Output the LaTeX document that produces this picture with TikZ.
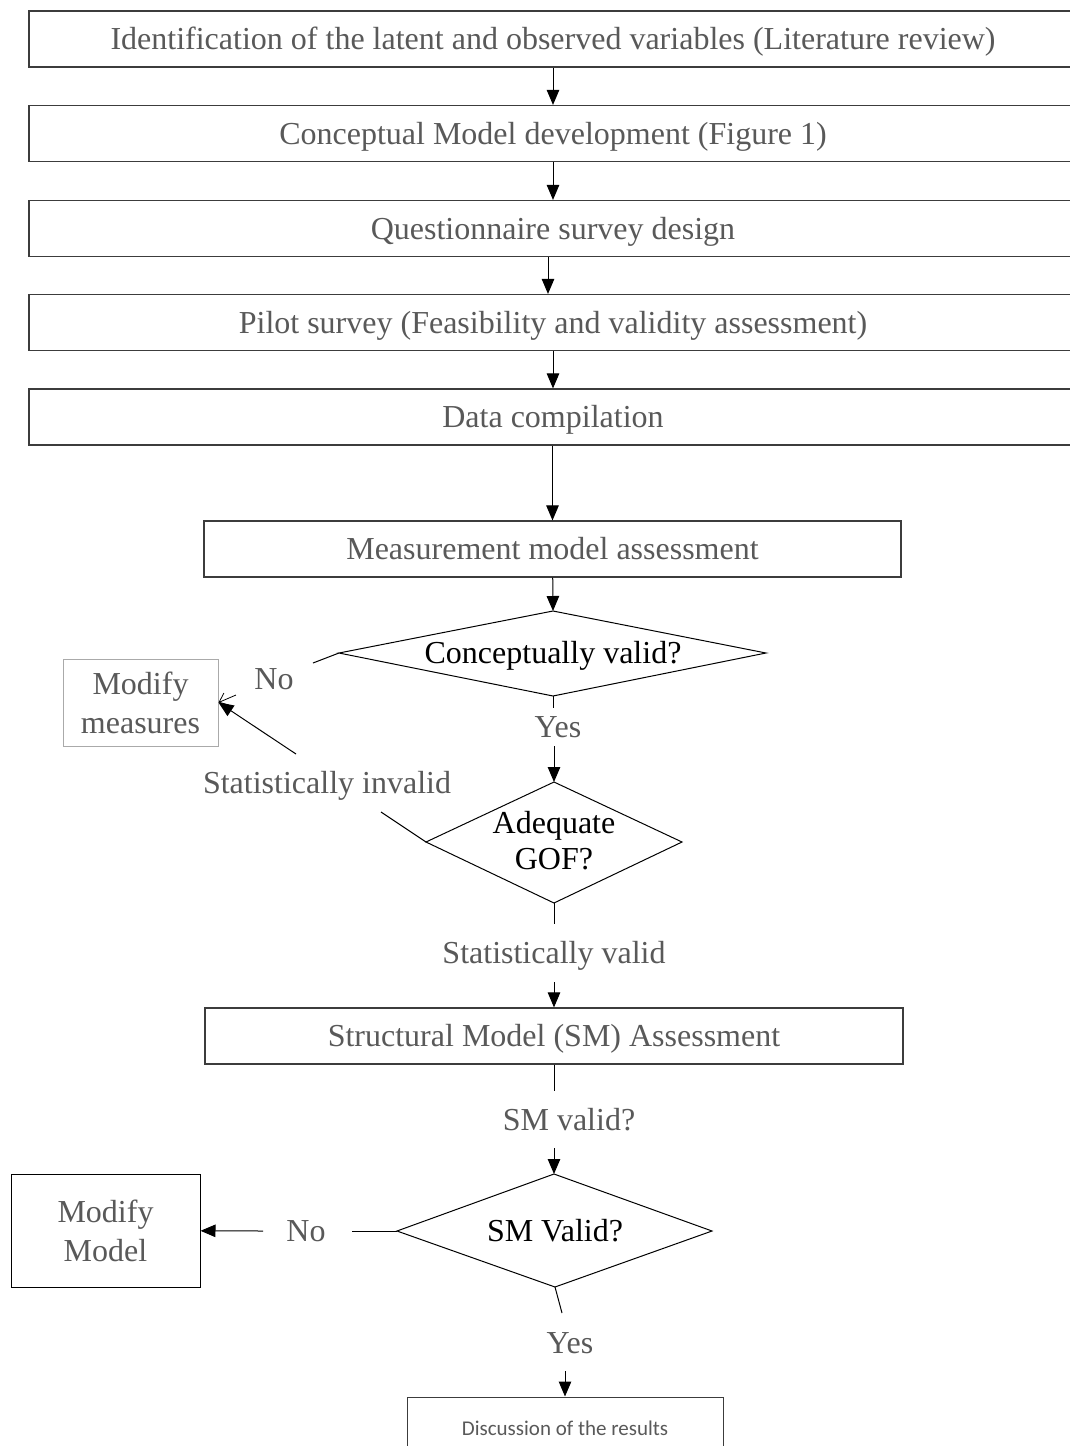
\documentclass[tikz,border=0pt]{standalone}
\usepackage{fontspec}
\setmainfont{Liberation Serif}
\newfontfamily\calibfont{Carlito}
\usetikzlibrary{arrows.meta}
\definecolor{tgray}{RGB}{89,89,89}
\definecolor{bgray}{RGB}{60,60,60}
\definecolor{lgray}{RGB}{170,170,170}
\begin{document}
\begin{tikzpicture}[x=1pt,y=-1pt,
  fnt/.style={font=\fontsize{32}{39}\selectfont},
  lbl/.style={fnt,text=tgray,inner sep=0pt,text height=21pt,text depth=0pt},
  dtxt/.style={fnt,text=black,inner sep=0pt,text height=21pt,text depth=0pt},
  box/.style={draw=bgray,line width=1.2pt,fnt,text=tgray,inner sep=0pt,text height=21pt,text depth=0pt,minimum height=56pt},
  arr/.style={draw=black,line width=1pt,-{Triangle[length=15pt,width=12.5pt]}},
  ln/.style={draw=black,line width=1pt},
  dia/.style={draw=black,line width=1pt,line join=miter}
]
\useasboundingbox (0,0) rectangle (1070,1446);
\clip (0,0) rectangle (1070,1446);
\fill[white] (0,0) rectangle (1070,1446);

% boxes
\node[box,minimum width=1048pt] (b1) at (553,39) {Identification of the latent and observed variables (Literature review)};
\node[box,minimum width=1048pt] (b2) at (553,133.5) {Conceptual Model development (Figure 1)};
\node[box,minimum width=1048pt] (b3) at (553,228.5) {Questionnaire survey design};
\node[box,minimum width=1048pt] (b4) at (553,322.5) {Pilot survey (Feasibility and validity assessment)};
\node[box,minimum width=1048pt] (b5) at (553,417) {Data compilation};
\node[box,minimum width=697pt] (mm) at (552.5,549) {Measurement model assessment};
\node[box,minimum width=698pt] (sm) at (554,1036) {Structural Model (SM) Assessment};
\node[draw=lgray,line width=1pt,fnt,text=tgray,align=center,minimum width=155pt,minimum height=87pt,inner sep=0pt] (mmeas) at (140.5,702.5) {Modify\\measures};
\node[draw=black,line width=1pt,fnt,text=tgray,align=center,minimum width=189pt,minimum height=113pt,inner sep=0pt] (mmod) at (105.5,1230.5) {Modify\\Model};
\node[draw=bgray,line width=1pt,font=\calibfont\fontsize{21}{25}\selectfont,text=tgray,minimum width=316pt,minimum height=63pt,inner sep=0pt,text height=13.5pt,text depth=0pt] (disc) at (565,1428.5) {Discussion of the results};

% diamonds
\coordinate (d1t) at (553,611);
\coordinate (d1r) at (766,653);
\coordinate (d1b) at (553,696);
\coordinate (d1l) at (339,653);
\draw[dia] (d1t) -- (d1r) -- (d1b) -- (d1l) -- cycle;
\node[dtxt] (d1) at (553,653) {Conceptually valid?};

\coordinate (d2t) at (554,782);
\coordinate (d2r) at (682,842);
\coordinate (d2b) at (554,903);
\coordinate (d2l) at (426,842);
\draw[dia] (d2t) -- (d2r) -- (d2b) -- (d2l) -- cycle;
\node[font=\fontsize{32}{36}\selectfont,text=black,align=center,inner sep=0pt] (d2) at (554,840.5) {Adequate\\GOF?};

\coordinate (d3t) at (554,1174);
\coordinate (d3r) at (712,1231);
\coordinate (d3b) at (555,1287);
\coordinate (d3l) at (397,1231);
\draw[dia] (d3t) -- (d3r) -- (d3b) -- (d3l) -- cycle;
\node[dtxt] (d3) at (555,1231) {SM Valid?};

% labels
\node[lbl] (no1) at (274,679) {No};
\node[lbl] (yes1) at (558,727) {Yes};
\node[lbl] (si) at (327,783) {Statistically invalid};
\node[lbl] (sv) at (554,953) {Statistically valid};
\node[lbl] (smq) at (569,1120) {SM valid?};
\node[lbl] (no2) at (306,1231) {No};
\node[lbl] (yes2) at (570,1343) {Yes};

% free ends
\coordinate (no1s) at (313,663);
\coordinate (y1a) at (553,708);
\coordinate (y1b) at (554,746);
\coordinate (si1) at (381,812);
\coordinate (si2) at (296,754);
\coordinate (sib) at (236,695);
\coordinate (sv1) at (554,924);
\coordinate (sv2) at (554,982);
\coordinate (smq1) at (554,1091);
\coordinate (smq2) at (554,1148);
\coordinate (no2a) at (352,1231);
\coordinate (no2b) at (263,1231);
\coordinate (y2a) at (562,1313);
\coordinate (y2b) at (565,1371);

% connectors
\draw[arr] (b1) -- (b2);
\draw[arr] (b2) -- (b3);
\draw[arr] ([xshift=-5pt]b3.south) -- ([xshift=-5pt]b4.north);
\draw[arr] (b4) -- (b5);
\draw[arr] (b5.south -| mm.north) -- (mm.north);
\draw[arr] (mm) -- (d1t);
\draw[ln] (d1l) -- (no1s);
\draw[ln] (d1b) -- (y1a);
\draw[arr] (y1b) -- (d2t);
\draw[ln] (si1) -- (d2l);
\draw[arr] (si2) -- (mmeas.east);
\draw[line width=0.8pt,-{Straight Barb[length=8pt,width=13pt]}] (sib) -- (mmeas.east);
\draw[ln] (d2b) -- (sv1);
\draw[arr] (sv2) -- (sm);
\draw[ln] (sm) -- (smq1);
\draw[arr] (smq2) -- (d3t);
\draw[ln] (d3l) -- (no2a);
\draw[arr] (no2b) -- (mmod);
\draw[ln] (d3b) -- (y2a);
\draw[arr] (y2b) -- (disc);
\end{tikzpicture}
\end{document}
